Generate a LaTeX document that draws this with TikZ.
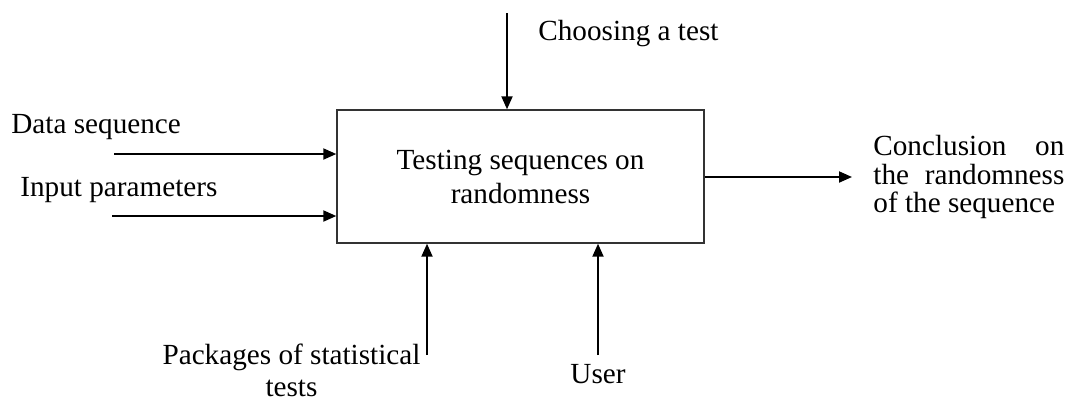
\documentclass[tikz,border=0pt]{standalone}
\usepackage{fontspec}
\setmainfont{Liberation Serif}
\usetikzlibrary{arrows.meta}
\begin{document}
\begin{tikzpicture}[x=0.5pt,y=-0.5pt,
  lbl/.style={font=\fontsize{14.6}{16}\selectfont, inner sep=0pt},
  flow/.style={line width=1pt, -{Triangle[length=6.5pt,width=5.5pt]}},
  func/.style={draw=black!80, line width=0.7pt, minimum width=183.5pt,
    minimum height=66.5pt, inner sep=0pt, align=center,
    font=\fontsize{14.6}{17}\selectfont}]
\useasboundingbox (0,0) rectangle (1068,403);

% function block
\node[func] (f) at (520.5,176.5) {Testing sequences on\\randomness};

% control from above
\coordinate (ctl) at (507,13);
\draw[flow] (ctl) -- (ctl |- f.north);
\node[lbl, anchor=base west] (ctltxt) at (538,40) {Choosing a test};

% inputs
\coordinate (in1) at (114,154);
\coordinate (in2) at (112,216);
\draw[flow] (in1) -- (in1 -| f.west);
\draw[flow] (in2) -- (in2 -| f.west);
\node[lbl, anchor=base west] (in1txt) at (11,133) {Data sequence};
\node[lbl, anchor=base west] (in2txt) at (20,196) {Input parameters};

% output
\coordinate (out) at (852,177);
\draw[flow] (f.east |- out) -- (out);
\node[lbl, anchor=north west, align=left,
  font=\fontsize{14.6}{14.2}\selectfont] (outtxt) at (873,135)
  {\hbox to 95.5pt{Conclusion\hfil on}\\
   \hbox to 95.5pt{the\hfil randomness}\\
   of the sequence};

% mechanisms from below
\coordinate (m1) at (427,355);
\coordinate (m2) at (598,355);
\draw[flow] (m1) -- (m1 |- f.south);
\draw[flow] (m2) -- (m2 |- f.south);
\node[lbl, anchor=north, align=center,
  font=\fontsize{14.6}{16}\selectfont] (m1txt) at (291.5,344)
  {Packages of statistical\\tests};
\node[lbl, anchor=base] (m2txt) at (598,383) {User};
\end{tikzpicture}
\end{document}
